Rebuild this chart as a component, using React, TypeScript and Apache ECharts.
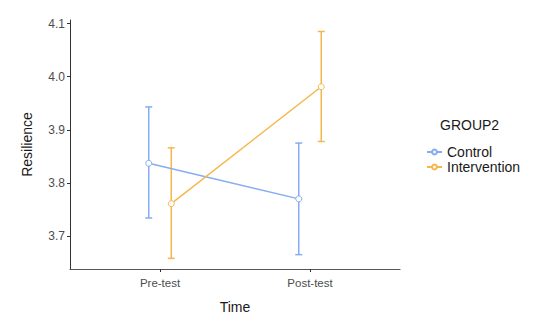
import React, { useEffect, useRef } from "react";
import * as echarts from "echarts";

const timeLabels = ["Pre-test", "Post-test"];
const groups = ["Control", "Intervention"];
const controlMean = [3.837, 3.770];
const controlLower = [3.734, 3.665];
const controlUpper = [3.943, 3.875];
const interventionMean = [3.761, 3.981];
const interventionLower = [3.658, 3.878];
const interventionUpper = [3.866, 4.085];
const yTicks = [3.7, 3.8, 3.9, 4.0, 4.1];

const COLORS = ["#85acf4", "#f5b74c"];
const DODGE = 0.075;
const FONT = "Liberation Sans, Arial, sans-serif";

export default function App() {
  const ref = useRef<HTMLDivElement>(null);
  useEffect(() => {
    if (!ref.current) return;
    const chart = echarts.init(ref.current, undefined, { renderer: "svg" });
    const means = [controlMean, interventionMean];
    const lowers = [controlLower, interventionLower];
    const uppers = [controlUpper, interventionUpper];
    const series: any[] = [];
    groups.forEach((g, gi) => {
      const off = gi === 0 ? -DODGE : DODGE;
      series.push({
        type: "line",
        name: g,
        data: timeLabels.map((_, i) => [i + 1 + off, means[gi][i]]),
        symbol: "circle",
        symbolSize: 6,
        itemStyle: { color: "#ffffff", borderColor: COLORS[gi], borderWidth: 1 },
        lineStyle: { color: COLORS[gi], width: 1.5 },
        z: 3,
      });
    });
    groups.forEach((g, gi) => {
      const off = gi === 0 ? -DODGE : DODGE;
      series.push({
        type: "custom",
        name: g + " error",
        silent: true,
        data: timeLabels.map((_, i) => [i + 1 + off, lowers[gi][i], uppers[gi][i]]),
        renderItem: (params: any, api: any) => {
          const x = api.value(0);
          const lo = api.coord([x, api.value(1)]);
          const hi = api.coord([x, api.value(2)]);
          const w = 3.5;
          const style = { stroke: COLORS[gi], lineWidth: 1.5 };
          return {
            type: "group",
            children: [
              { type: "line", shape: { x1: lo[0], y1: lo[1], x2: hi[0], y2: hi[1] }, style },
              { type: "line", shape: { x1: lo[0] - w, y1: lo[1], x2: lo[0] + w, y2: lo[1] }, style },
              { type: "line", shape: { x1: hi[0] - w, y1: hi[1], x2: hi[0] + w, y2: hi[1] }, style },
            ],
          };
        },
        z: 1,
      });
    });

    chart.setOption({
      animation: false,
      textStyle: { fontFamily: FONT },
      color: COLORS,
      grid: { left: 70, right: 141, top: 20, bottom: 51 },
      xAxis: {
        type: "value",
        min: 0.4,
        max: 2.6,
        name: "Time",
        nameLocation: "middle",
        nameGap: 31,
        nameTextStyle: { fontSize: 14, color: "#1a1a1a", fontFamily: FONT },
        splitLine: { show: false },
        axisLine: { show: true, lineStyle: { color: "#555", width: 1.2 } },
        axisTick: { show: true, customValues: [1, 2], length: 3, lineStyle: { color: "#333" } },
        axisLabel: {
          customValues: [1, 2],
          formatter: (v: number) => timeLabels[Math.round(v) - 1] ?? "",
          fontSize: 11.5,
          color: "#4d4d4d",
          fontFamily: FONT,
          margin: 8,
        },
      },
      yAxis: {
        type: "value",
        min: 3.638,
        max: 4.1066,
        name: "Resilience",
        nameLocation: "middle",
        nameGap: 36,
        nameTextStyle: { fontSize: 14, color: "#1a1a1a", fontFamily: FONT },
        splitLine: { show: false },
        axisLine: { show: true, lineStyle: { color: "#333", width: 1 } },
        axisTick: { show: true, customValues: yTicks, length: 3, lineStyle: { color: "#333" } },
        axisLabel: {
          customValues: yTicks,
          formatter: (v: number) => v.toFixed(1),
          fontSize: 12,
          color: "#4d4d4d",
          fontFamily: FONT,
          margin: 5,
        },
      },
      legend: {
        orient: "vertical",
        left: 421,
        top: 140,
        itemWidth: 15,
        itemHeight: 6,
        itemGap: 1,
        data: groups.map((g) => ({ name: g })),
        textStyle: { fontSize: 14, color: "#1a1a1a", fontFamily: FONT },
      },
      graphic: [
        {
          type: "text",
          left: 440,
          top: 118,
          style: { text: "GROUP2", fontSize: 14, fill: "#1a1a1a", fontFamily: FONT },
        },
      ],
      series,
    });
    return () => chart.dispose();
  }, []);
  return <div ref={ref} style={{ position: "absolute", left: 0, top: 0, width: 541, height: 320 }} />;
}
